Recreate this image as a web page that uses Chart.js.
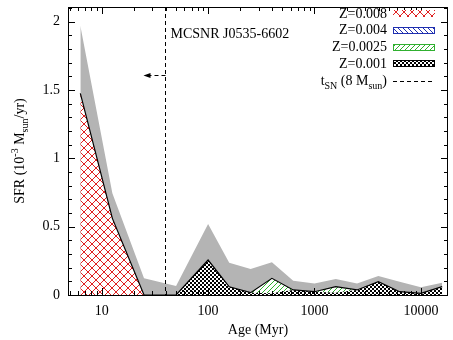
<!DOCTYPE html>
<html>
<head>
<meta charset="utf-8">
<script src="https://cdn.jsdelivr.net/npm/chart.js@4.4.1/dist/chart.umd.min.js"></script>
<style>
html, body { margin: 0; padding: 0; background: #fff; }
#wrap { width: 453px; height: 340px; }
</style>
</head>
<body>
<div id="wrap"><canvas id="c" width="453" height="340"></canvas></div>
<script>
// age bins (Myr) and SFR per metallicity (10^-3 Msun/yr)
var ages      = [6.3, 12.6, 25, 50, 100, 158, 251, 398, 631, 1000, 1585, 2512, 3981, 6310, 10000, 15849];
var sfrZ0001  = [0, 0, 0, 0, 0.256, 0.06, 0.017, 0.012, 0.037, 0.024, 0.016, 0.037, 0.097, 0.024, 0.012, 0.061];
var sfrZ00025 = [0, 0, 0, 0, 0, 0, 0, 0.11, 0, 0, 0.045, 0, 0, 0, 0, 0];
var sfrZ0004  = [0, 0, 0, 0, 0, 0, 0, 0, 0, 0, 0, 0, 0, 0, 0, 0];
var sfrZ0008  = [1.476, 0.561, 0, 0, 0, 0, 0, 0, 0, 0, 0, 0, 0, 0, 0, 0];
var sfrUpper  = [1.97, 0.744, 0.122, 0.066, 0.52, 0.236, 0.19, 0.24, 0.105, 0.085, 0.117, 0.085, 0.139, 0.097, 0.056, 0.09];

var xTicks = [10, 100, 1000, 10000];
var yTicks = [0, 0.5, 1, 1.5, 2];
var tSN = 39;   // lifetime of an 8 Msun star (Myr)

var FONT = '"Liberation Serif", "DejaVu Serif", serif';

function makePattern(size, draw) {
    var c = document.createElement('canvas');
    c.width = size; c.height = size;
    var g = c.getContext('2d');
    g.fillStyle = '#fff';
    g.fillRect(0, 0, size, size);
    draw(g, size);
    return g.createPattern(c, 'repeat');
}

var redHatch = makePattern(8, function (g, s) {
    g.strokeStyle = '#e02020'; g.lineWidth = 1;
    g.beginPath();
    g.moveTo(-1, -1); g.lineTo(s + 1, s + 1);
    g.moveTo(-1, s + 1); g.lineTo(s + 1, -1);
    g.stroke();
});
var blueHatch = makePattern(5, function (g, s) {
    g.strokeStyle = '#2030b0'; g.lineWidth = 1;
    g.beginPath();
    g.moveTo(-1, -1); g.lineTo(s + 1, s + 1);
    g.moveTo(-1, s - 1); g.lineTo(1, s + 1);
    g.moveTo(s - 1, -1); g.lineTo(s + 1, 1);
    g.stroke();
});
var greenHatch = makePattern(5, function (g, s) {
    g.strokeStyle = '#30b030'; g.lineWidth = 1;
    g.beginPath();
    g.moveTo(-1, s + 1); g.lineTo(s + 1, -1);
    g.moveTo(-1, 1); g.lineTo(1, -1);
    g.moveTo(s - 1, s + 1); g.lineTo(s + 1, s - 1);
    g.stroke();
});
var checker = makePattern(4, function (g, s) {
    g.fillStyle = '#000';
    g.fillRect(0, 0, 2, 2);
    g.fillRect(2, 2, 2, 2);
});

function pts(vals) {
    return ages.map(function (a, i) { return { x: a, y: vals[i] }; });
}

// text with sub/superscripts: parts = [[text, 'sup'|'sub'|'']]
function richWidth(ctx, parts) {
    var w = 0;
    parts.forEach(function (p) {
        ctx.font = (p[1] ? '10px ' : '14px ') + FONT;
        w += ctx.measureText(p[0]).width;
    });
    return w;
}
function drawRich(ctx, parts, x, y, align) {
    var w = richWidth(ctx, parts);
    var cx = align === 'right' ? x - w : (align === 'center' ? x - w / 2 : x);
    ctx.textAlign = 'left';
    ctx.textBaseline = 'alphabetic';
    parts.forEach(function (p) {
        ctx.font = (p[1] ? '10px ' : '14px ') + FONT;
        var dy = p[1] === 'sup' ? -6 : (p[1] === 'sub' ? 4 : 0);
        ctx.fillText(p[0], cx, y + dy);
        cx += ctx.measureText(p[0]).width;
    });
}

var decor = {
    id: 'decor',
    afterDraw: function (chart) {
        var ctx = chart.ctx, a = chart.chartArea;
        var xs = chart.scales.x, ys = chart.scales.y;
        ctx.save();
        ctx.fillStyle = '#000';
        ctx.strokeStyle = '#000';

        // t_SN line and arrow
        var xl = Math.round(xs.getPixelForValue(tSN)) + 0.5;
        ctx.lineWidth = 1;
        ctx.setLineDash([4, 3]);
        ctx.beginPath();
        ctx.moveTo(xl, a.top); ctx.lineTo(xl, a.bottom);
        ctx.stroke();
        var ya = 75.5;
        ctx.beginPath();
        ctx.moveTo(xl, ya); ctx.lineTo(xl - 16, ya);
        ctx.stroke();
        ctx.setLineDash([]);
        ctx.beginPath();
        ctx.moveTo(xl - 22, ya); ctx.lineTo(xl - 15, ya - 2.5); ctx.lineTo(xl - 15, ya + 2.5);
        ctx.closePath(); ctx.fill();

        // frame
        ctx.strokeRect(Math.round(a.left) + 0.5, Math.round(a.top) + 0.5,
            Math.round(a.right - a.left) - 1, Math.round(a.bottom - a.top));

        // x ticks (inward, bottom and top)
        ctx.beginPath();
        for (var e = 0; e <= 4; e++) {
            for (var k = 1; k <= 9; k++) {
                var tv = k * Math.pow(10, e);
                if (tv < xs.min || tv > xs.max) continue;
                var px = Math.round(xs.getPixelForValue(tv)) + 0.5;
                var len = k === 1 ? 7 : 4;
                ctx.moveTo(px, a.bottom); ctx.lineTo(px, a.bottom - len);
                ctx.moveTo(px, a.top); ctx.lineTo(px, a.top + len);
            }
        }
        // y ticks (inward, left and right)
        for (var t = 0; t <= 21; t++) {
            var yv = t / 10;
            if (yv > ys.max) continue;
            var py = Math.round(ys.getPixelForValue(yv)) + 0.5;
            var ylen = t % 5 === 0 ? 7 : 4;
            ctx.moveTo(a.left, py); ctx.lineTo(a.left + ylen, py);
            ctx.moveTo(a.right, py); ctx.lineTo(a.right - ylen, py);
        }
        ctx.stroke();

        // tick labels
        ctx.font = '14px ' + FONT;
        ctx.textAlign = 'center';
        ctx.textBaseline = 'middle';
        xTicks.forEach(function (v) {
            ctx.fillText(String(v), xs.getPixelForValue(v), a.bottom + 16);
        });
        ctx.textAlign = 'right';
        yTicks.forEach(function (v) {
            ctx.fillText(String(v), a.left - 8, ys.getPixelForValue(v));
        });

        // axis titles
        ctx.textAlign = 'center';
        ctx.fillText('Age (Myr)', (a.left + a.right) / 2, a.bottom + 35);
        ctx.save();
        ctx.translate(19, (a.top + a.bottom) / 2);
        ctx.rotate(-Math.PI / 2);
        drawRich(ctx, [['SFR (10', ''], ['-3', 'sup'], [' M', ''], ['sun', 'sub'], ['/yr)', '']], 0, 5, 'center');
        ctx.restore();

        // label
        ctx.font = '14px ' + FONT;
        ctx.textAlign = 'left';
        ctx.textBaseline = 'alphabetic';
        ctx.fillText('MCSNR J0535-6602', xl + 5, 38);

        // key
        var keys = [
            ['Z=0.008', redHatch, null],
            ['Z=0.004', blueHatch, '#2030b0'],
            ['Z=0.0025', greenHatch, '#30b030'],
            ['Z=0.001', checker, '#000']
        ];
        var kx = 387, sx = 393, sw = 42;
        keys.forEach(function (kk, i) {
            var ky = 14 + i * 16.8;
            ctx.font = '14px ' + FONT;
            ctx.textAlign = 'right';
            ctx.textBaseline = 'middle';
            ctx.fillStyle = '#000';
            ctx.fillText(kk[0], kx, ky);
            ctx.fillStyle = kk[1];
            ctx.fillRect(sx, Math.round(ky) - 4, sw, 7);
            if (kk[2]) {
                ctx.strokeStyle = kk[2];
                ctx.strokeRect(sx + 0.5, Math.round(ky) - 3.5, sw - 1, 6);
            }
        });
        var ky5 = 14 + 4 * 16.8;
        ctx.fillStyle = '#000';
        drawRich(ctx, [['t', ''], ['SN', 'sub'], [' (8 M', ''], ['sun', 'sub'], [')', '']], kx, ky5 + 4, 'right');
        ctx.strokeStyle = '#000';
        ctx.setLineDash([4, 3]);
        ctx.beginPath();
        ctx.moveTo(sx, Math.round(ky5) + 0.5); ctx.lineTo(sx + sw, Math.round(ky5) + 0.5);
        ctx.stroke();
        ctx.restore();
    }
};

new Chart(document.getElementById('c'), {
    type: 'line',
    data: {
        datasets: [
            { label: 'Z=0.001', data: pts(sfrZ0001), stack: 'z', fill: 'origin',
              backgroundColor: checker, borderWidth: 0, pointRadius: 0 },
            { label: 'Z=0.0025', data: pts(sfrZ00025), stack: 'z', fill: '-1',
              backgroundColor: greenHatch, borderWidth: 0, pointRadius: 0 },
            { label: 'Z=0.004', data: pts(sfrZ0004), stack: 'z', fill: '-1',
              backgroundColor: blueHatch, borderWidth: 0, pointRadius: 0 },
            { label: 'Z=0.008', data: pts(sfrZ0008), stack: 'z', fill: '-1',
              backgroundColor: redHatch, borderColor: '#000', borderWidth: 1.2, pointRadius: 0 },
            { label: 'upper', data: pts(sfrUpper), stack: 'err', fill: 'origin',
              backgroundColor: '#b4b4b4', borderWidth: 0, pointRadius: 0 }
        ]
    },
    options: {
        responsive: false,
        animation: false,
        devicePixelRatio: 1,
        layout: { padding: { left: 68, right: 5, top: 7, bottom: 45 } },
        elements: { line: { tension: 0 } },
        scales: {
            x: { type: 'logarithmic', min: 4.824, max: 17975, display: false },
            y: { type: 'linear', min: 0, max: 2.108, stacked: true, display: false }
        },
        plugins: {
            legend: { display: false },
            tooltip: { enabled: false },
            filler: { drawTime: 'beforeDatasetsDraw' }
        }
    },
    plugins: [decor]
});
</script>
</body>
</html>
